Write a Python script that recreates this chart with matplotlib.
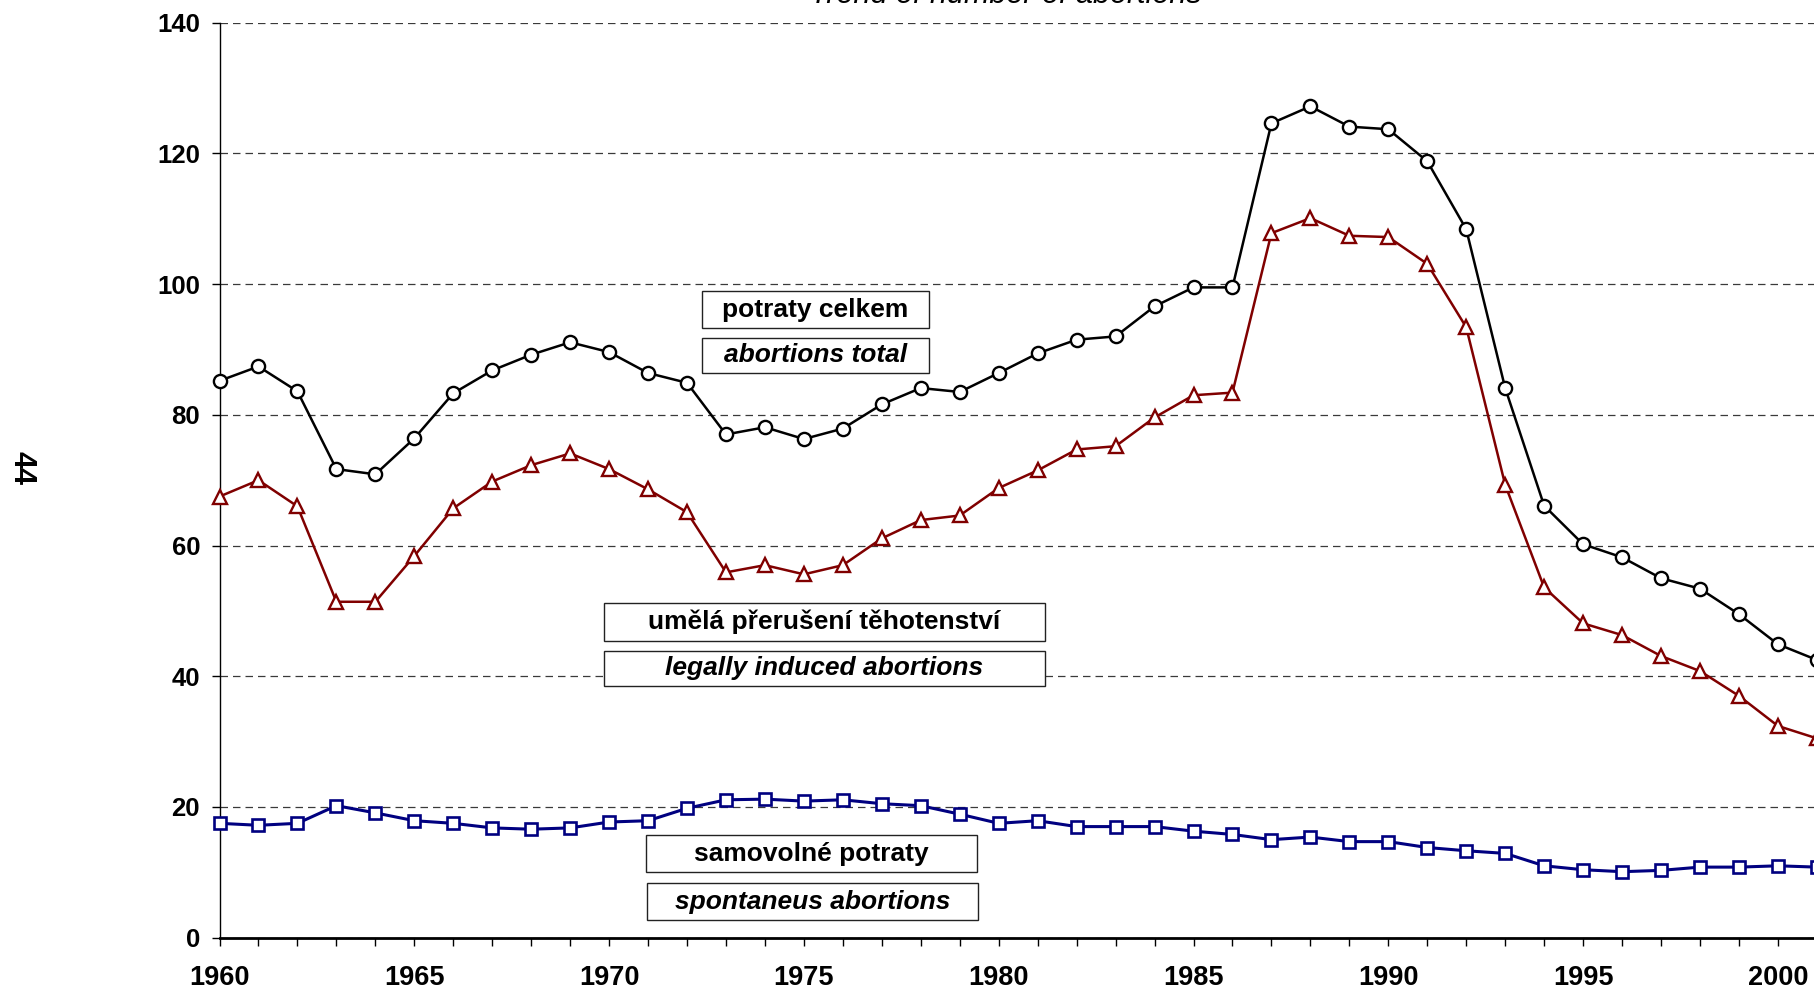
import matplotlib
matplotlib.use("Agg")
import matplotlib.pyplot as plt
from matplotlib.patches import Rectangle
from matplotlib.ticker import MultipleLocator

plt.rcParams['font.family'] = ['Liberation Sans', 'DejaVu Sans']

years = list(range(1960, 2002))

total = [85.2, 87.4, 83.6, 71.7, 70.9, 76.4, 83.3, 86.8, 89.2, 91.1,
         89.6, 86.4, 84.9, 77.0, 78.1, 76.3, 77.9, 81.6, 84.1, 83.5,
         86.4, 89.4, 91.5, 92.0, 96.6, 99.5, 99.5, 124.6, 127.2, 124.1,
         123.7, 118.8, 108.4, 84.1, 66.1, 60.2, 58.2, 55.0, 53.4, 49.5,
         44.9, 42.5]

induced = [67.5, 70.0, 66.0, 51.4, 51.4, 58.4, 65.7, 69.8, 72.3, 74.1,
           71.7, 68.6, 65.1, 55.9, 57.0, 55.6, 57.0, 61.1, 63.9, 64.6,
           68.8, 71.5, 74.7, 75.2, 79.6, 83.0, 83.4, 107.8, 110.1, 107.4,
           107.2, 103.1, 93.4, 69.3, 53.6, 48.1, 46.3, 43.1, 40.8, 37.0,
           32.4, 30.5]

spontaneous = [17.5, 17.2, 17.5, 20.2, 19.1, 17.9, 17.5, 16.8, 16.6, 16.8,
               17.7, 17.9, 19.8, 21.1, 21.2, 20.9, 21.1, 20.5, 20.2, 18.9,
               17.5, 17.9, 17.0, 17.0, 17.0, 16.3, 15.8, 15.0, 15.4, 14.7,
               14.7, 13.8, 13.3, 12.9, 11.0, 10.4, 10.1, 10.3, 10.8, 10.8,
               11.0, 10.8]

title = "Trend of number of abortions"
page_number = "44"
box_labels = [
    ("potraty celkem", "normal"),
    ("abortions total", "italic"),
    ("umělá přerušení těhotenství", "normal"),
    ("legally induced abortions", "italic"),
    ("samovolné potraty", "normal"),
    ("spontaneus abortions", "italic"),
]

W, H = 1814, 992
fig = plt.figure(figsize=(W / 100, H / 100), dpi=100)

px_per_year = 38.96
ax_left = 219.5
ax_top = 22.7
ax_bottom = 937.7
x_max = 2002
ax = fig.add_axes([ax_left / W, (H - ax_bottom) / H,
                   (x_max - 1960) * px_per_year / W, (ax_bottom - ax_top) / H])

ax.plot(years, total, color='black', lw=1.8, marker='o', ms=9.5,
        mfc='white', mec='black', mew=1.7, zorder=4, clip_on=False)
ax.plot(years, induced, color='#800000', lw=1.8, marker='^', ms=10,
        mfc='white', mec='#800000', mew=1.7, zorder=4, clip_on=False)
ax.plot(years, spontaneous, color='#000080', lw=2.2, marker='s', ms=8.5,
        mfc='white', mec='#000080', mew=1.9, zorder=4, clip_on=False)

ax.set_xlim(1960, x_max)
ax.set_ylim(0, 140)
ax.yaxis.set_major_locator(MultipleLocator(20))
ax.xaxis.set_major_locator(MultipleLocator(5))
ax.xaxis.set_minor_locator(MultipleLocator(1))

ax.grid(axis='y', which='major', color='#3a3a3a', lw=0.9, linestyle=(0, (6, 4)))
ax.set_axisbelow(True)

for s in ['top', 'right']:
    ax.spines[s].set_visible(False)
ax.spines['left'].set_linewidth(1.0)
ax.spines['bottom'].set_linewidth(2.0)

ax.tick_params(axis='y', which='major', direction='out', length=6, width=1,
               pad=8, labelsize=18.5)
ax.tick_params(axis='x', which='both', direction='out', length=5.5, width=1,
               pad=14, labelsize=19.5)
xt = [1960, 1965, 1970, 1975, 1980, 1985, 1990, 1995, 2000]
ax.set_xticks(xt)
ax.set_xticklabels([str(y) for y in xt], fontweight='bold')
for lab in ax.get_yticklabels():
    lab.set_fontweight('bold')

# title (partially cut off at the top in the reference)
fig.text(1006 / W, 1 - 3 / H, title, ha='center', va='baseline',
         fontsize=22, fontstyle='italic')

# page number
fig.text(21 / W, 1 - 468 / H, page_number, rotation=-90, ha='center', va='center',
         fontsize=22, fontweight='bold')

# label boxes (pixel boxes: x0, y0, x1, y1)
boxes = [
    (702, 291, 929, 328),
    (702, 338, 929, 373),
    (604, 603, 1045, 641),
    (604, 651, 1045, 686),
    (646, 835, 977, 872),
    (647, 883, 978, 920),
]
for (txt, style), (x0, y0, x1, y1) in zip(box_labels, boxes):
    rect = Rectangle((x0 / W, 1 - y1 / H), (x1 - x0) / W, (y1 - y0) / H,
                     transform=fig.transFigure, facecolor='white',
                     edgecolor='#222222', lw=1.0, zorder=5)
    fig.patches.append(rect)
    fig.text((x0 + x1) / 2 / W, 1 - (y0 + y1) / 2 / H, txt, ha='center', va='center',
             fontsize=19, fontweight='bold', fontstyle=style, zorder=6)

fig.savefig('out.png', dpi=100)
